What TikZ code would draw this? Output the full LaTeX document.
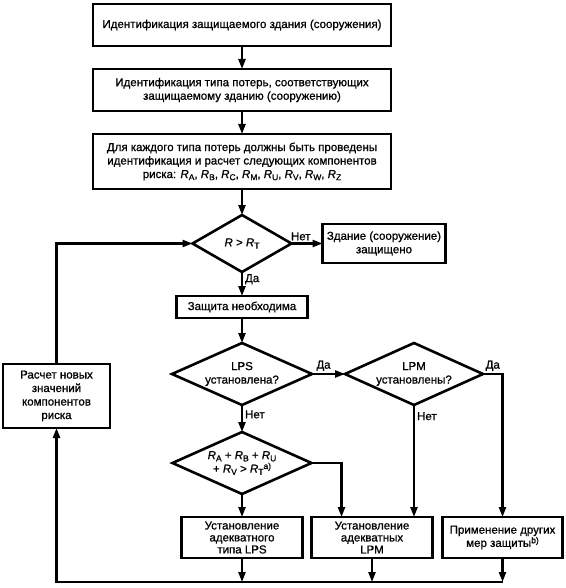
\documentclass[tikz,border=0pt]{standalone}
\usepackage{fontspec}
\setmainfont{Liberation Sans}[FakeBold=0.9]
\usepackage{tikz}
\usetikzlibrary{
    shapes.geometric,
    arrows.meta,
    positioning,
    calc
}
\newcommand{\riskR}[1]{\textit{R}\raisebox{-0.35ex}{\fontsize{8.5pt}{8.5pt}\selectfont #1}}
\newcommand{\noteref}[1]{\raisebox{0.6ex}{\fontsize{8.5pt}{8.5pt}\selectfont #1}}
\tikzset{
    % Base style for all nodes
    plain base/.style={
        font=\fontsize{11.5pt}{13.5pt}\selectfont,
        align=center,
        text=black,
    },
    % Process boxes - plain rectangle with thick border
    procbox/.style={
        plain base,
        rectangle,
        draw=black,
        line width=2.6pt,
        inner sep=1pt,
        outer sep=0pt,
    },
    % Lower row boxes - tighter lines
    lowbox/.style={
        procbox,
        font=\fontsize{11.5pt}{12pt}\selectfont,
        minimum width=121pt,
        minimum height=41pt,
    },
    % Decision diamond
    decision/.style={
        plain base,
        diamond,
        aspect=2.2,
        draw=black,
        line width=2.6pt,
        inner sep=0pt,
        outer sep=0pt,
    },
    % Plain arrow
    arrow/.style={
        -{Triangle[length=10pt, width=7pt]},
        line width=2.2pt,
        draw=black,
    },
    % Label style for Да/Нет
    edge label/.style={
        plain base,
        inner sep=2pt,
    },
}
\begin{document}
\begin{tikzpicture}
    \useasboundingbox (0,0) rectangle (565pt,-588pt);

    \node (ident) [procbox, minimum width=298pt, minimum height=42pt] at (242pt,-25pt) {Идентификация защищаемого здания (сооружения)};
    \node (losses) [procbox, minimum width=298pt, minimum height=42pt, below=23pt of ident] {Идентификация типа потерь, соответствующих\\защищаемому зданию (сооружению)};
    \node (comps) [procbox, minimum width=298pt, minimum height=55pt, below=23pt of losses] {Для каждого типа потерь должны быть проведены\\идентификация и расчет следующих компонентов\\риска: \riskR{A}, \riskR{B}, \riskR{C}, \riskR{M}, \riskR{U}, \riskR{V}, \riskR{W}, \riskR{Z}};
    \node (rcheck) [decision, minimum width=99pt, minimum height=57pt, below=26pt of comps] {\textit{R} > \riskR{T}};
    \node (safe) [procbox, minimum width=123pt, minimum height=39pt, right=31pt of rcheck] {Здание (сооружение)\\защищено};
    \node (need) [procbox, minimum width=131pt, minimum height=22pt, below=24pt of rcheck] {Защита необходима};
    \node (lps) [decision, minimum width=140pt, minimum height=62pt, below=25pt of need] {LPS\\установлена?};
    \node (lpm) [decision, minimum width=138pt, minimum height=62pt, right=33pt of lps] {LPM\\установлены?};
    \node (sum) [decision, minimum width=139pt, minimum height=62pt, below=27pt of lps] {\riskR{A} + \riskR{B} + \riskR{U}\\+ \riskR{V} > \riskR{T}\noteref{a)}};
    \node (lpsbox) [lowbox, below=23pt of sum] {Установление\\адекватного\\типа LPS};
    \node (lpmbox) [lowbox, right=9pt of lpsbox] {Установление\\адекватных\\LPM};
    \node (otherbox) [lowbox, minimum width=120pt, right=10pt of lpmbox] {Применение других\\мер защиты\noteref{b)}};
    \node (recalc) [procbox, minimum width=107pt, minimum height=64pt] at (56.5pt,-396pt) {Расчет новых\\значений\\компонентов\\риска};

    \draw [arrow] (ident) -- (losses);
    \draw [arrow] (losses) -- (comps);
    \draw [arrow] (comps) -- (rcheck);
    \draw [arrow] (rcheck) -- node[edge label, above, pos=0.3] {Нет} (safe);
    \draw [arrow] (rcheck) -- node[edge label, right, pos=0.3] {Да} (need);
    \draw [arrow] (need) -- (lps);
    \draw [arrow] (lps) -- node[edge label, above, pos=0.35] {Да} (lpm);
    \draw [arrow] (lps) -- node[edge label, right, pos=0.35] {Нет} (sum);
    \draw [arrow] (lpm.east) -| node[edge label, above, pos=0.25] {Да} (otherbox.north);
    \draw [arrow] (lpm.south) -- node[edge label, right, pos=0.1] {Нет} (lpm.south |- lpmbox.north);
    \draw [arrow] (sum.east) -| ([xshift=30pt]lpmbox.north west);
    \draw [arrow] (sum) -- (lpsbox);

    % return loop
    \coordinate (loopL) at (56.5pt,-582pt);
    \coordinate (loopR) at (otherbox.south |- loopL);
    \draw [arrow] (lpsbox) -- (lpsbox |- loopL);
    \draw [arrow] (lpmbox) -- (lpmbox |- loopL);
    \draw [arrow] (otherbox) -- (loopR);
    \draw [arrow] (loopR) -- (loopL) -- (recalc.south);
    \draw [arrow] (recalc.north) |- (rcheck.west);
\end{tikzpicture}
\end{document}
